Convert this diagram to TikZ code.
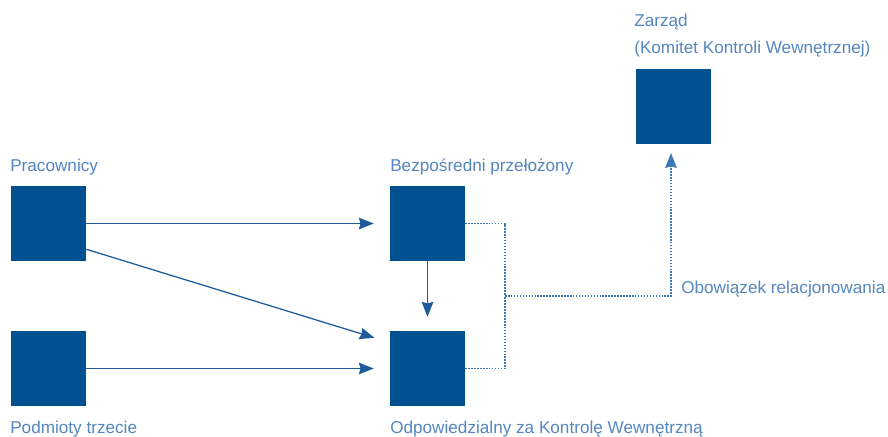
\documentclass[tikz,border=0pt]{standalone}
\usepackage{fontspec}
\setmainfont{Liberation Sans}
\usepackage{xcolor}
\usetikzlibrary{arrows.meta, positioning, calc}
\definecolor{boxblue}{HTML}{00518F}
\definecolor{lineblue}{HTML}{1F5B99}
\definecolor{dotblue}{HTML}{3A78B8}
\definecolor{textblue}{HTML}{5486BF}

\begin{document}
\begin{tikzpicture}[
    x=0.025cm, y=-0.025cm,
    unitbox/.style={rectangle, fill=boxblue, minimum size=1.875cm, inner sep=0pt},
    caption/.style={anchor=base west, inner sep=0pt, font=\fontsize{12.2}{14}\selectfont, text=textblue},
    flow/.style={draw=lineblue, line width=0.9pt, -{Stealth[length=0.37cm, width=0.29cm, inset=0.04cm]}, shorten >=0.4cm},
    report/.style={draw=dotblue, line width=0.9pt, dash pattern=on 1.1pt off 1pt},
]
\useasboundingbox (0,0) rectangle (888,436);

% Boxes
\node[unitbox] (prac) at (48.5,223.5) {};
\node[unitbox] (podm) at (48.5,368.5) {};
\node[unitbox] (bezp) at (427.5,223.5) {};
\node[unitbox] (odp) at (427.5,368.5) {};
\node[unitbox] (zarz) at (673.5,106.5) {};

% Captions
\node[caption] (lprac) at (10,171) {Pracownicy};
\node[caption] (lbezp) at (390,171) {Bezpośredni przełożony};
\node[caption] (lpodm) at (10,433) {Podmioty trzecie};
\node[caption] (lodp) at (390,433) {Odpowiedzialny za Kontrolę Wewnętrzną};
\node[caption] (lzarz) at (634,26) {Zarząd};
\node[caption] (lkom) at (634,53) {(Komitet Kontroli Wewnętrznej)};
\node[caption] (lobow) at (681,293) {Obowiązek relacjonowania};

% Solid flows
\draw[flow] (prac.east) -- (bezp.west);
\draw[flow] (podm.east) -- (odp.west);
\draw[flow] ($(prac.south east)+(0,-12)$) -- ($(odp.west)+(0,-26)$);
\draw[flow, shorten >=0.35cm] (bezp.south) -- (odp.north);

% Reporting line
\coordinate (join) at (505,296);
\coordinate (turn) at (671,296);
\draw[report] (bezp.east) -| (join);
\draw[report] (odp.east) -| (join);
\draw[report, -{Stealth[length=0.37cm, width=0.29cm, inset=0.04cm]}, shorten >=0.22cm] (join) -- (turn) -- (turn |- zarz.south);

\end{tikzpicture}
\end{document}
